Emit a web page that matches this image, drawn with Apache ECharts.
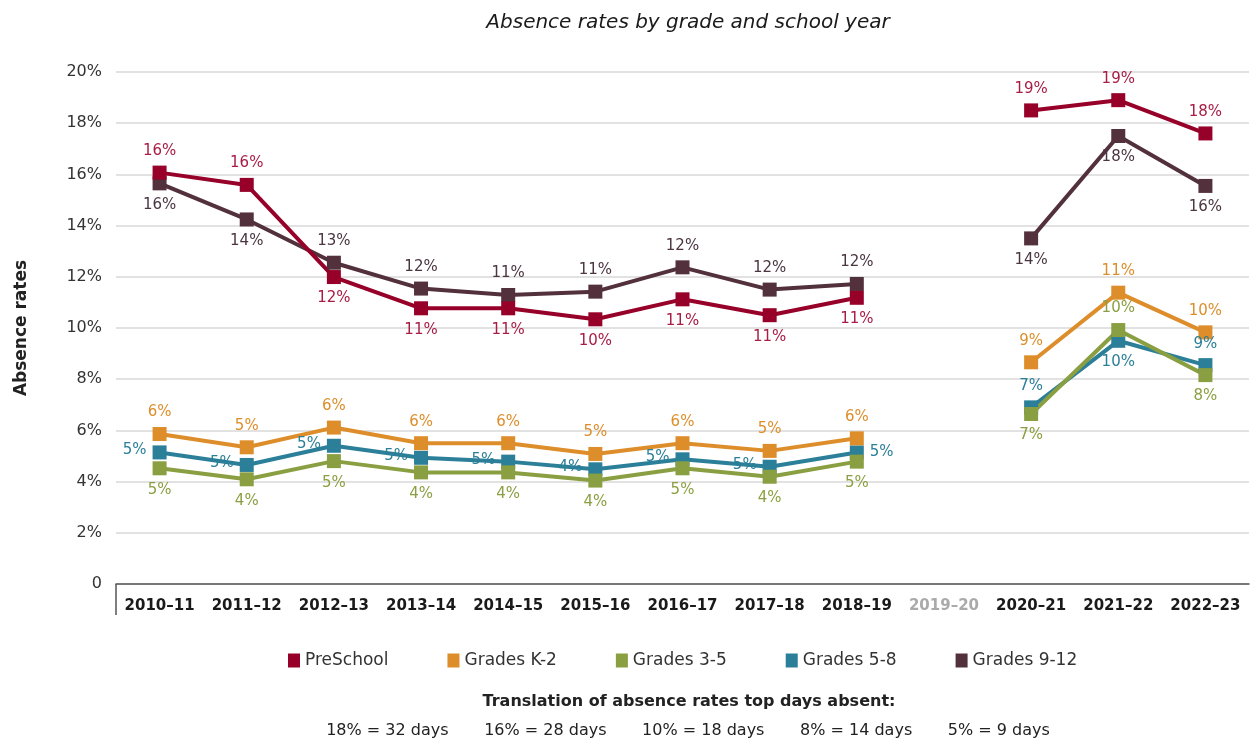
<!DOCTYPE html>
<html>
<head>
<meta charset="utf-8">
<script src="https://cdn.jsdelivr.net/npm/echarts@6/dist/echarts.min.js"></script>
<style>
html,body{margin:0;padding:0;background:#fff;}
#chart{width:1257px;height:738px;}
</style>
</head>
<body>
<div id="chart"></div>
<script>
var categories = ['2010\u201311','2011\u201312','2012\u201313','2013\u201314','2014\u201315','2015\u201316','2016\u201317','2017\u201318','2018\u201319','2019\u201320','2020\u201321','2021\u201322','2022\u201323'];
var yTicks = [0,2,4,6,8,10,12,14,16,18,20];
var preSchool = [16.07,15.59,11.99,10.77,10.77,10.34,11.12,10.5,11.18,null,18.5,18.9,17.6];
var gradesK2  = [5.86,5.34,6.11,5.5,5.5,5.08,5.5,5.2,5.69,null,8.66,11.38,9.83];
var grades35  = [4.52,4.09,4.8,4.36,4.36,4.04,4.52,4.19,4.78,null,6.64,9.92,8.16];
var grades58  = [5.14,4.65,5.4,4.93,4.78,4.48,4.87,4.58,5.14,null,6.9,9.5,8.55];
var grades912 = [15.65,14.24,12.55,11.54,11.29,11.42,12.37,11.5,11.72,null,13.5,17.5,15.55];
var seriesNames = ['PreSchool','Grades K-2','Grades 3-5','Grades 5-8','Grades 9-12'];
var daysNote = ['18% = 32 days','16% = 28 days','10% = 18 days','8% = 14 days','5% = 9 days'];

// label placement (style only)
var T='top',B='bottom',L='left',R='right';
var posPre = [T,T,B,B,B,B,B,B,B,B,T,T,T];
var posK2  = [T,T,T,T,T,T,T,T,T,T,T,T,T];
var pos35  = [B,B,B,B,B,B,B,B,B,B,B,T,B];
var pos58  = [L,L,L,L,L,L,L,L,R,R,T,B,T];
var pos912 = [B,B,T,T,T,T,T,T,T,T,B,B,B];

var FONT = 'DejaVu Sans';

function mk(name, vals, pos, color, labelColor) {
  return {
    name: name,
    type: 'line',
    connectNulls: false,
    symbol: 'rect',
    symbolSize: 14,
    lineStyle: {width: 4, color: color},
    itemStyle: {color: color},
    data: vals.map(function (v, i) {
      var p = pos[i];
      var lab = {show: v != null, position: p, distance: (p === L || p === R) ? 6 : 7};
      if (name === 'Grades 5-8' && p === L) { lab.offset = [0, -2]; }
      return {value: v, label: lab};
    }),
    label: {
      show: true,
      color: labelColor,
      fontFamily: FONT,
      fontSize: 15,
      formatter: function (p) { return Math.round(p.value) + '%'; }
    },
    emphasis: {disabled: true},
    animation: false
  };
}

var chart = echarts.init(document.getElementById('chart'), null, {renderer: 'canvas'});
var option = {
  backgroundColor: '#fff',
  animation: false,
  title: [
    {text: 'Absence rates by grade and school year', left: 683, top: 8, textAlign: 'center',
     textStyle: {fontFamily: FONT, fontSize: 20, fontStyle: 'italic', fontWeight: 'normal', color: '#1a1a1a'}},
    {text: 'Translation of absence rates top days absent:', left: 684, top: 689, textAlign: 'center',
     textStyle: {fontFamily: FONT, fontSize: 16, fontWeight: 'bold', color: '#222'}},
    {text: daysNote.join('       '), left: 683, top: 718, textAlign: 'center',
     textStyle: {fontFamily: FONT, fontSize: 16, fontWeight: 'normal', color: '#222'}}
  ],
  legend: {
    data: seriesNames,
    top: 647,
    left: 283,
    icon: 'rect',
    itemWidth: 12,
    itemHeight: 14,
    itemGap: 59,
    textStyle: {fontFamily: FONT, fontSize: 17, color: '#333'}
  },
  grid: {left: 116, right: 8, top: 72, bottom: 154, containLabel: false},
  xAxis: {
    type: 'category',
    data: categories,
    boundaryGap: true,
    axisLine: {show: true, lineStyle: {color: '#555', width: 1.5}},
    axisTick: {show: false},
    axisLabel: {
      margin: 15,
      interval: 0,
      fontFamily: FONT,
      fontSize: 15,
      fontWeight: 'bold',
      color: function (v) { return v === '2019\u201320' ? '#aaaaaa' : '#1a1a1a'; }
    },
    splitLine: {show: false}
  },
  yAxis: {
    type: 'value',
    min: yTicks[0],
    max: yTicks[yTicks.length - 1],
    interval: yTicks[1] - yTicks[0],
    name: 'Absence rates',
    nameLocation: 'middle',
    nameGap: 86,
    nameTextStyle: {fontFamily: FONT, fontSize: 17, fontWeight: 'bold', color: '#222'},
    axisLine: {show: false},
    axisTick: {show: false},
    axisLabel: {
      margin: 14,
      fontFamily: FONT,
      fontSize: 16,
      color: '#333',
      formatter: function (v) { return v === 0 ? '0' : v + '%'; }
    },
    splitLine: {show: true, lineStyle: {color: '#d9d9d9', width: 1.5}}
  },
  series: [
    mk('Grades 9-12', grades912, pos912, '#52303c', '#4a3540'),
    mk('Grades 5-8', grades58, pos58, '#2b7f98', '#2b7f98'),
    mk('Grades 3-5', grades35, pos35, '#8a9f41', '#8a9f41'),
    mk('Grades K-2', gradesK2, posK2, '#dd8e2b', '#dd8e2b'),
    mk('PreSchool', preSchool, posPre, '#960029', '#a81c45')
  ]
};
chart.setOption(option);

// left boundary tick of the category axis (decorative)
var rect = chart.getModel().getComponent('grid', 0).coordinateSystem.getRect();
chart.setOption({
  graphic: [{
    type: 'line', silent: true,
    shape: {x1: rect.x, y1: rect.y + rect.height, x2: rect.x, y2: rect.y + rect.height + 31},
    style: {stroke: '#555', lineWidth: 1.5}
  }]
});
</script>
</body>
</html>
